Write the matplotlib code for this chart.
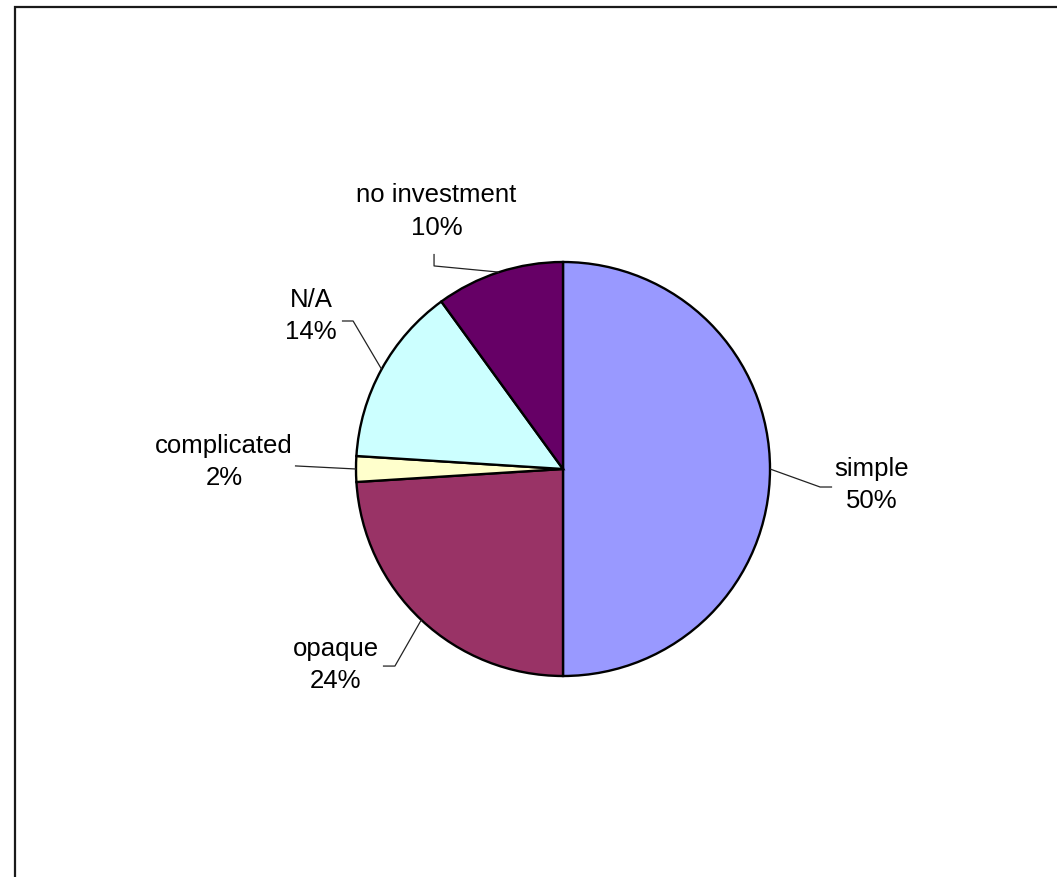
import numpy as np
import matplotlib.pyplot as plt
from matplotlib.patches import Rectangle

plt.rcParams['font.family'] = ['Liberation Sans', 'DejaVu Sans']

# answers, share in percent
categories = ["simple", "opaque", "complicated", "N/A", "no investment"]
shares = [50, 24, 2, 14, 10]
colors = ["#9999FF", "#993366", "#FFFFCC", "#CCFFFF", "#660066"]

# where each label sits and where its leader line bends (pie radius = 1)
label_pos = [(1.493, -0.072), (-1.097, -0.942), (-1.638, 0.039),
             (-1.217, 0.744), (-0.611, 1.249)]
line_pts = [[(1.300, -0.087), (1.242, -0.087)],
            [(-0.870, -0.952), (-0.812, -0.952)],
            [(-1.295, 0.015)],
            [(-1.068, 0.715), (-1.014, 0.715)],
            [(-0.623, 1.039), (-0.623, 0.981)]]

W, H = 1057, 878
cx, cy, r = 563, 470, 207

fig = plt.figure(figsize=(W / 100, H / 100), dpi=100)
ax = fig.add_axes([0, 0, 1, 1])
ax.axis('off')

wedges, _ = ax.pie(shares, colors=colors, startangle=90, counterclock=False,
                   radius=1, wedgeprops=dict(edgecolor='black', linewidth=1.7))
ax.set_xlim(-cx / r, (W - cx) / r)
ax.set_ylim(-(H - cy) / r, cy / r)
ax.set_aspect('auto')

for w, name, val, pos, pts in zip(wedges, categories, shares, label_pos, line_pts):
    mid = np.deg2rad((w.theta1 + w.theta2) / 2)
    edge = (np.cos(mid), np.sin(mid))
    xs = [p[0] for p in pts] + [edge[0]]
    ys = [p[1] for p in pts] + [edge[1]]
    ax.plot(xs, ys, color='#222222', lw=0.9, solid_capstyle='butt')
    ax.text(pos[0], pos[1], f"{name}\n{val}%", ha='center', va='center',
            fontsize=18.5, linespacing=1.45, color='black')

# outer chart frame
fig.add_artist(Rectangle((15 / W, -0.05), 1.2, 1 - 8 / H + 0.05,
                         transform=fig.transFigure, fill=False,
                         edgecolor='#1a1a1a', linewidth=1.6))

fig.savefig("out.png", dpi=100)
